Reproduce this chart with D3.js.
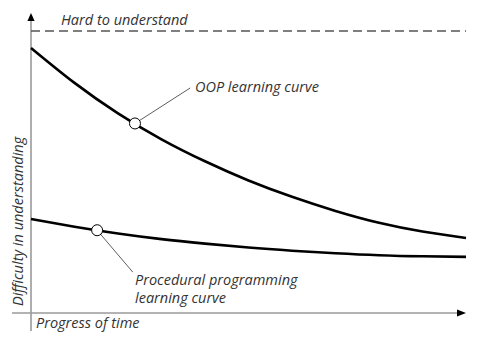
<!DOCTYPE html>
<html>
<head>
<meta charset="utf-8">
<script src="https://cdn.jsdelivr.net/npm/d3@7/dist/d3.min.js"></script>
<style>
  html, body { margin: 0; padding: 0; background: #fff; }
  text { font-family: "Open Sans", "Noto Sans", sans-serif; font-style: italic; fill: #333; }
</style>
</head>
<body>
<svg id="chart" width="478" height="345"></svg>
<script>
// ---- data ----
const timeSteps = [0, 10, 20, 30, 40, 50, 60, 70, 80, 90, 100];
const oopDifficulty = [94.0, 81.6, 70.8, 61.6, 53.8, 47.0, 41.2, 36.2, 32.0, 28.9, 26.6];
const proceduralDifficulty = [33.3, 30.6, 28.2, 26.2, 24.6, 23.2, 22.1, 21.2, 20.5, 20.1, 19.9];
const hardLevel = 100;
const markerTimes = [23.9, 15.2];          // OOP, procedural
const labelAnchors = [[36.6, 79.8], [23.4, 14.5]];
const labels = {
  hard: "Hard to understand",
  oop: ["OOP learning curve"],
  proc: ["Procedural programming", "learning curve"],
  x: "Progress of time",
  y: "Difficulty in understanding"
};

// ---- layout ----
const svg = d3.select("#chart");
const x = d3.scaleLinear().domain([0, 100]).range([31, 466]);
const y = d3.scaleLinear().domain([0, 100]).range([313, 31]);

// axes
const axisColor = "#9a9a9a";
svg.append("line").attr("x1", x(0)).attr("x2", x(0)).attr("y1", 331).attr("y2", 18)
  .attr("stroke", axisColor).attr("stroke-width", 1.6);
svg.append("line").attr("x1", 12).attr("x2", x(100) - 5).attr("y1", y(0)).attr("y2", y(0))
  .attr("stroke", axisColor).attr("stroke-width", 1.6);
// arrowheads
svg.append("path").attr("d", `M${x(0)},13 L${x(0) - 3.6},21 L${x(0) + 3.6},21 Z`).attr("fill", "#000");
svg.append("path").attr("d", `M${x(100)},${y(0)} L${x(100) - 9},${y(0) - 3.6} L${x(100) - 9},${y(0) + 3.6} Z`).attr("fill", "#000");

// hard line
svg.append("line").attr("x1", x(0)).attr("x2", x(100)).attr("y1", y(hardLevel)).attr("y2", y(hardLevel))
  .attr("stroke", "#555").attr("stroke-width", 1.6).attr("stroke-dasharray", "9,5");

// curves
const line = d3.line().x((d, i) => x(timeSteps[i])).y(d => y(d)).curve(d3.curveNatural);
[oopDifficulty, proceduralDifficulty].forEach(series => {
  svg.append("path").attr("d", line(series)).attr("fill", "none")
    .attr("stroke", "#000").attr("stroke-width", 2.6);
});

function valueAt(series, t) {
  const i = Math.min(Math.floor(t / 10), 9);
  const f = (t - timeSteps[i]) / 10;
  return series[i] + (series[i + 1] - series[i]) * f;
}

const seriesList = [oopDifficulty, proceduralDifficulty];
markerTimes.forEach((t, k) => {
  const v = valueAt(seriesList[k], t);
  svg.append("line").attr("x1", x(t)).attr("y1", y(v))
    .attr("x2", x(labelAnchors[k][0])).attr("y2", y(labelAnchors[k][1]))
    .attr("stroke", "#333").attr("stroke-width", 0.8);
  svg.append("circle").attr("cx", x(t)).attr("cy", y(v)).attr("r", 5.5)
    .attr("fill", "#fff").attr("stroke", "#000").attr("stroke-width", 1);
});

const fs = 14.5;
svg.append("text").attr("x", 61).attr("y", 25).attr("font-size", fs).text(labels.hard);
svg.append("text").attr("x", 195).attr("y", 92).attr("font-size", fs).text(labels.oop[0]);
labels.proc.forEach((s, i) => {
  svg.append("text").attr("x", 135).attr("y", 285 + i * 17.5).attr("font-size", fs).text(s);
});
svg.append("text").attr("x", 36).attr("y", 328).attr("font-size", fs).text(labels.x);
svg.append("text").attr("transform", "translate(23,306) rotate(-90)").attr("font-size", fs).text(labels.y);
</script>
</body>
</html>
